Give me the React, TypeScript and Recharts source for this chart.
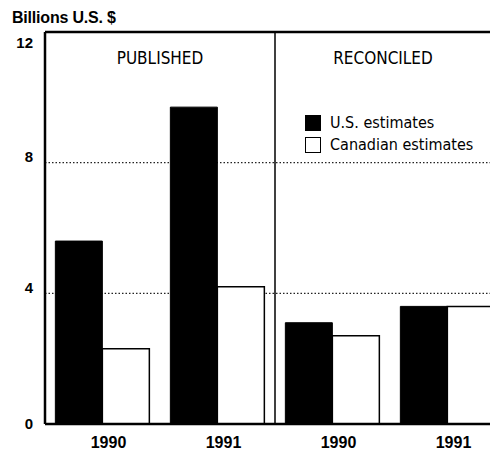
import { Bar, BarChart, CartesianGrid, Legend, ReferenceArea, ReferenceLine, XAxis, YAxis } from "recharts";

const categories = ["P1990", "P1991", "R1990", "R1991"];
const yearLabels = ["1990", "1991", "1990", "1991"];
const usEstimates = [5.6, 9.7, 3.1, 3.6];
const canadianEstimates = [2.3, 4.2, 2.7, 3.6];
const yTicks = [0, 4, 8, 12];
const panelTitles = ["PUBLISHED", "RECONCILED"];
const seriesNames = ["U.S. estimates", "Canadian estimates"];

const data = categories.map((id, i) => ({
  id,
  year: yearLabels[i],
  us: usEstimates[i],
  canadian: canadianEstimates[i],
}));

const narrow = "'Liberation Sans Narrow', 'Arial Narrow', 'DejaVu Sans Condensed', 'Liberation Sans', Arial, sans-serif";
const sans = "'Liberation Sans', Arial, sans-serif";

function YTick(props: any) {
  const { x, y, payload } = props;
  // the 12 sits just under the top rule, the others just above their grid line
  const shift = payload.value === 12 ? 11 : payload.value === 0 ? 0 : -6;
  return (
    <text x={x - 4} y={y + shift} dy="0.35em" textAnchor="end" fontFamily={sans} fontWeight="bold" fontSize={15} fill="#000">
      {payload.value}
    </text>
  );
}

function LegendBox(props: any) {
  const items = [...(props.payload || [])].sort(
    (a: any, b: any) => seriesNames.indexOf(a.value) - seriesNames.indexOf(b.value)
  );
  return (
    <div style={{ fontFamily: narrow, fontSize: 16, color: "#000", lineHeight: "22px", textAlign: "left" }}>
      {items.map((item: any) => (
        <div key={item.value} style={{ display: "flex", alignItems: "center" }}>
          <span
            style={{
              display: "inline-block",
              width: 14,
              height: 14,
              marginRight: 9,
              background: item.value === seriesNames[0] ? "#000" : "#fff",
              border: "1.5px solid #000",
            }}
          />
          {item.value}
        </div>
      ))}
    </div>
  );
}

export default function App() {
  return (
    <div style={{ position: "absolute", left: 0, top: 0, width: 490, height: 452, overflow: "hidden", background: "#fff" }}>
      <div
        style={{
          position: "absolute",
          left: 12,
          top: 9,
          fontFamily: sans,
          fontWeight: "bold",
          fontSize: 16,
          color: "#000",
          letterSpacing: "-0.2px",
        }}
      >
        Billions U.S. $
      </div>
      <BarChart
        width={510}
        height={452}
        data={data}
        margin={{ top: 32, right: 5, left: 0, bottom: 0 }}
        barGap={0}
        barCategoryGap="9%"
      >
        <CartesianGrid vertical={false} stroke="#222" strokeDasharray="1.5 2" strokeWidth={1.2} />
        <ReferenceArea
          x1="P1990"
          x2="P1991"
          y1={0}
          y2={12}
          fill="none"
          strokeOpacity={0}
          label={{ value: panelTitles[0], position: "insideTop", offset: 20, fill: "#000", fontSize: 17, fontFamily: narrow }}
        />
        <ReferenceArea
          x1="R1990"
          x2="R1991"
          y1={0}
          y2={12}
          fill="none"
          strokeOpacity={0}
          label={{ value: panelTitles[1], position: "insideTop", offset: 20, dx: -7, fill: "#000", fontSize: 17, fontFamily: narrow }}
        />
        <XAxis
          dataKey="id"
          tickFormatter={(v: string) => yearLabels[categories.indexOf(v)]}
          axisLine={{ stroke: "#000", strokeWidth: 2.5 }}
          tickLine={false}
          tick={{ fill: "#000", fontSize: 16, fontWeight: "bold", fontFamily: sans, dx: 6 }}
          tickMargin={7}
          height={28}
        />
        <YAxis
          domain={[0, 12]}
          ticks={yTicks}
          width={45}
          axisLine={{ stroke: "#000", strokeWidth: 2.5 }}
          tickLine={false}
          tick={<YTick />}
          interval={0}
        />
        <ReferenceLine y={12} stroke="#000" strokeWidth={2.5} />
        <ReferenceLine x="P1991" position="end" stroke="#000" strokeWidth={1.5} />
        <Legend
          layout="vertical"
          verticalAlign="middle"
          align="center"
          wrapperStyle={{ top: 112, left: 305, width: 180 }}
          content={<LegendBox />}
        />
        <Bar dataKey="us" name={seriesNames[0]} fill="#000" stroke="#000" strokeWidth={1} isAnimationActive={false} />
        <Bar dataKey="canadian" name={seriesNames[1]} fill="#fff" stroke="#000" strokeWidth={1.5} isAnimationActive={false} />
      </BarChart>
    </div>
  );
}
